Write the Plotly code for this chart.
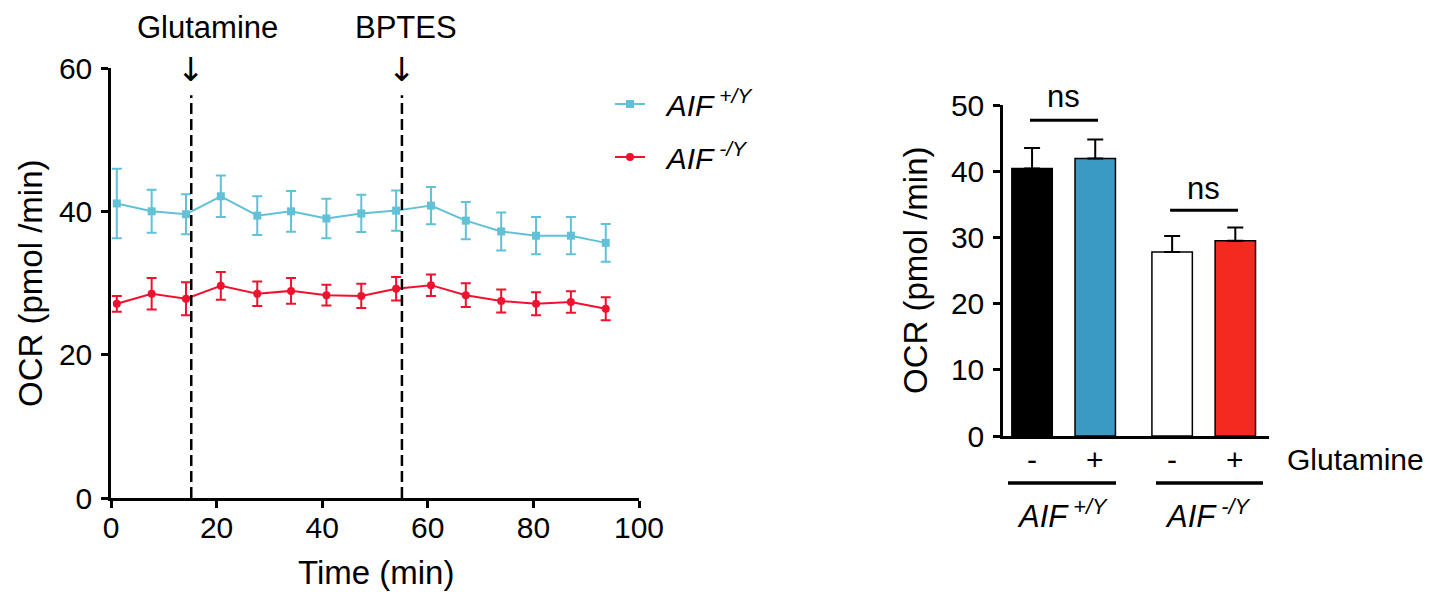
import plotly.graph_objects as go

# ---------------- data ----------------
time_min = [1.1, 7.7, 14.2, 20.8, 27.7, 34.1, 40.8, 47.4, 54.0, 60.6, 67.2, 73.9, 80.5, 87.1, 93.7]
wt_ocr = [41.1, 40.0, 39.6, 42.1, 39.4, 40.0, 39.0, 39.7, 40.1, 40.8, 38.7, 37.2, 36.6, 36.6, 35.6]
wt_sem = [4.85, 3.0, 2.8, 2.9, 2.7, 2.85, 2.75, 2.6, 2.8, 2.6, 2.6, 2.65, 2.6, 2.6, 2.65]
ko_ocr = [27.1, 28.5, 27.8, 29.6, 28.5, 28.9, 28.3, 28.2, 29.2, 29.7, 28.3, 27.5, 27.1, 27.35, 26.4]
ko_sem = [1.1, 2.2, 2.3, 1.95, 1.7, 1.8, 1.45, 1.7, 1.65, 1.5, 1.65, 1.6, 1.6, 1.5, 1.6]

injection_labels = ["Glutamine", "BPTES"]
injection_times = [15.2, 55.1]

genotypes = ["AIF+/Y", "AIF-/Y"]
genotype_labels = ["<i>AIF</i><sup><i> +/Y</i></sup>", "<i>AIF</i><sup><i> -/Y</i></sup>"]
no_gln_ocr = [40.4, 27.8]
no_gln_sem = [3.1, 2.4]
gln_ocr = [41.9, 29.5]
gln_sem = [2.9, 2.0]
sig_labels = ["ns", "ns"]

# ---------------- style ----------------
FONT = "Liberation Sans, Arial, sans-serif"
W, H = 1434, 592
BLUE = "#62C1D6"
RED = "#F0112E"
BAR_NO = ["#000000", "#FFFFFF"]
BAR_GLN = ["#3A9AC4", "#F42A21"]
BARGAP = 0.098


def px_x(p):
    return p / W


def px_y(p):
    return 1 - p / H


fig = go.Figure()

# ---------------- left: time course ----------------
for name, ys, es, color, sym, grp in [
    (genotype_labels[0], wt_ocr, wt_sem, BLUE, "square", "a"),
    (genotype_labels[1], ko_ocr, ko_sem, RED, "circle", "b"),
]:
    fig.add_trace(go.Scatter(
        x=time_min, y=ys, name="&nbsp;&nbsp;" + name, mode="lines+markers",
        line=dict(color=color, width=2),
        marker=dict(symbol=sym, size=8, color=color),
        error_y=dict(type="data", array=es, color=color, thickness=2, width=5),
        legendgroup=grp, cliponaxis=False, xaxis="x", yaxis="y",
    ))

shapes = []
annotations = []
for lab, t, xs in zip(injection_labels, injection_times, [16, 4]):
    shapes.append(dict(type="line", xref="x", yref="y", x0=t, x1=t, y0=0, y1=56.2,
                       line=dict(color="black", width=2.5, dash="11px,5px")))
    annotations.append(dict(text="↓", x=t, xref="x", y=px_y(69), yref="paper",
                            showarrow=False, font=dict(size=33, color="black", family="DejaVu Sans"),
                            xanchor="center", yanchor="middle"))
    annotations.append(dict(text=lab, x=t, xref="x", y=px_y(28), yref="paper", xshift=xs,
                            showarrow=False, font=dict(size=31, color="black", family=FONT),
                            xanchor="center", yanchor="middle"))

annotations.append(dict(text="OCR (pmol /min)", x=px_x(30), y=px_y(283), xref="paper", yref="paper",
                        textangle=-90, showarrow=False, font=dict(size=33, color="black", family=FONT),
                        xanchor="center", yanchor="middle"))
annotations.append(dict(text="Time (min)", x=px_x(376), y=px_y(572), xref="paper", yref="paper",
                        showarrow=False, font=dict(size=33, color="black", family=FONT),
                        xanchor="center", yanchor="middle"))

# ---------------- right: bar chart ----------------
fig.add_trace(go.Bar(
    x=genotypes, y=no_gln_ocr, marker=dict(color=BAR_NO, line=dict(color="black", width=1.5)),
    error_y=dict(type="data", symmetric=False, array=no_gln_sem, arrayminus=[0, 0],
                 color="black", thickness=2, width=8),
    showlegend=False, xaxis="x2", yaxis="y2",
))
fig.add_trace(go.Bar(
    x=genotypes, y=gln_ocr, marker=dict(color=BAR_GLN, line=dict(color="black", width=1.5)),
    error_y=dict(type="data", symmetric=False, array=gln_sem, arrayminus=[0, 0],
                 color="black", thickness=2, width=8),
    showlegend=False, xaxis="x2", yaxis="y2",
))

off = (1 - BARGAP) / 4
for i in range(len(genotypes)):
    for sgn, txt in [(-1, "-"), (1, "+")]:
        annotations.append(dict(text=txt, x=i + sgn * off, xref="x2", y=px_y(460), yref="paper",
                                showarrow=False, font=dict(size=30, color="black", family=FONT),
                                xanchor="center", yanchor="middle"))
annotations.append(dict(text="Glutamine", x=px_x(1355), y=px_y(460), xref="paper", yref="paper",
                        showarrow=False, font=dict(size=30, color="black", family=FONT),
                        xanchor="center", yanchor="middle"))
for (x0, x1) in [(1008, 1116), (1156, 1263)]:
    shapes.append(dict(type="line", xref="paper", yref="paper", x0=px_x(x0), x1=px_x(x1),
                       y0=px_y(483), y1=px_y(483), line=dict(color="black", width=3.5)))
for lab, xc in zip(genotype_labels, [1062, 1208]):
    annotations.append(dict(text=lab, x=px_x(xc), y=px_y(514), xref="paper", yref="paper",
                            showarrow=False, font=dict(size=31, color="black", family=FONT),
                            xanchor="center", yanchor="middle"))

# significance brackets
for i, (lab, ly, ty) in enumerate(zip(sig_labels, [47.7, 34.1], [97, 188])):
    shapes.append(dict(type="line", xref="x2", yref="y2", x0=i - 0.24, x1=i + 0.245, y0=ly, y1=ly,
                       line=dict(color="black", width=3)))
    annotations.append(dict(text=lab, x=i, xref="x2", y=px_y(ty), yref="paper", showarrow=False,
                            font=dict(size=31, color="black", family=FONT),
                            xanchor="center", yanchor="middle"))

annotations.append(dict(text="OCR (pmol /min)", x=px_x(915), y=px_y(270), xref="paper", yref="paper",
                        textangle=-90, showarrow=False, font=dict(size=33, color="black", family=FONT),
                        xanchor="center", yanchor="middle"))

axis_common = dict(showgrid=False, zeroline=False, showline=True, linecolor="black", linewidth=2.5,
                   ticks="outside", ticklen=7, tickwidth=2.5, tickcolor="black", automargin=False,
                   tickfont=dict(size=30, color="black", family=FONT))

fig.update_layout(
    template="none",
    width=W, height=H, autosize=False,
    margin=dict(l=0, r=0, t=0, b=0, pad=0, autoexpand=False),
    paper_bgcolor="white", plot_bgcolor="white",
    font=dict(family=FONT, color="black"),
    barmode="group", bargap=BARGAP, bargroupgap=0.36,
    xaxis=dict(domain=[px_x(111), px_x(639)], range=[0, 100], dtick=20, anchor="y",
               ticklabelstandoff=-6, **axis_common),
    yaxis=dict(domain=[px_y(498), px_y(68)], range=[0, 60], dtick=20, anchor="x",
               ticklabelstandoff=3, **axis_common),
    xaxis2=dict(domain=[px_x(1003), px_x(1269)], range=[-0.433, 1.466], anchor="y2",
                showticklabels=False, showgrid=False, zeroline=False, showline=True,
                linecolor="black", linewidth=2.5, ticks="", automargin=False),
    yaxis2=dict(domain=[px_y(436), px_y(105)], range=[0, 50], dtick=10, anchor="x2",
                ticklabelstandoff=3, **axis_common),
    legend=dict(x=px_x(610), y=px_y(78), xanchor="left", yanchor="top",
                font=dict(size=30, color="black", family=FONT),
                itemwidth=30, tracegroupgap=11, bgcolor="rgba(0,0,0,0)"),
    shapes=shapes,
    annotations=annotations,
)

fig.write_html("out.html", config={"displayModeBar": False},
               post_script="document.body.style.margin='0';")
